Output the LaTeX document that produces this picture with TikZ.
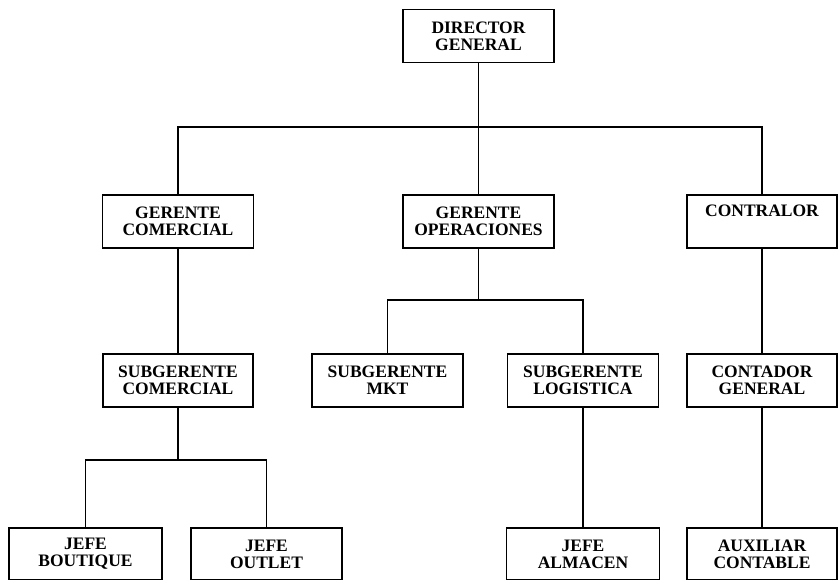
\documentclass[tikz,border=0pt]{standalone}
\usepackage{fontspec}
\setmainfont{Liberation Serif}
\usetikzlibrary{positioning,calc}
\tikzset{%
  box/.style={draw,align=center,minimum width=151pt,minimum height=53pt,inner sep=0pt},
  link/.style={line width=1.4pt}%
}

\begin{document}
\begin{tikzpicture}[
    x=1pt, y=-1pt,
    font=\fontsize{17.5}{17}\selectfont\bfseries,
    box/.style={
        draw,
        line width=1.2pt,
        align=center,
        minimum width=151pt,
        minimum height=53pt,
        inner sep=0pt
    },
    link/.style={line width=1.4pt}
]
\useasboundingbox (0,0) rectangle (838,580);

% Nodes (one row per level)
\node[box] (dir) at (478.5,36) {DIRECTOR\\GENERAL};

\node[box] (gcom) at (178,221.5) {GERENTE\\COMERCIAL};
\node[box] (gope) at (478.5,221.5) {GERENTE\\OPERACIONES};
\node[box, minimum width=150pt] (contr) at (762,221.5) {CONTRALOR\\\strut};

\node[box, minimum width=150pt] (scom) at (178,380.5) {SUBGERENTE\\COMERCIAL};
\node[box] (smkt) at (387.5,380.5) {SUBGERENTE\\MKT};
\node[box] (slog) at (583,380.5) {SUBGERENTE\\LOGISTICA};
\node[box, minimum width=150pt] (cgen) at (762,380.5) {CONTADOR\\GENERAL};

\node[box, minimum height=52pt, minimum width=153pt] (jbou) at (85.5,554) {JEFE\\BOUTIQUE};
\node[box, minimum height=52pt] (jout) at (266.5,554) {JEFE\\OUTLET};
\node[box, minimum height=52pt, minimum width=153pt] (jalm) at (583,554) {JEFE\\ALMACEN};
\node[box, minimum height=52pt, minimum width=150pt] (aux) at (762,554) {AUXILIAR\\CONTABLE};

% Bus levels
\coordinate (bus1) at (0,127);
\coordinate (bus2) at (0,300);
\coordinate (bus3) at (0,460);

% Connectors
\draw[link] (dir.south) -- (gope.north);
\draw[link] (gcom.north) |- (bus1 -| contr.north) -- (contr.north);

\draw[link] (gcom.south) -- (scom.north);
\draw[link] (gope.south) -- (gope.south |- bus2);
\draw[link] (smkt.north) |- (bus2 -| slog.north) -- (slog.north);
\draw[link] (contr.south) -- (cgen.north);

\draw[link] (scom.south) -- (scom.south |- bus3);
\draw[link] (jbou.north) |- (bus3 -| jout.north) -- (jout.north);
\draw[link] (slog.south) -- (jalm.north);
\draw[link] (cgen.south) -- (aux.north);

\end{tikzpicture}
\end{document}
